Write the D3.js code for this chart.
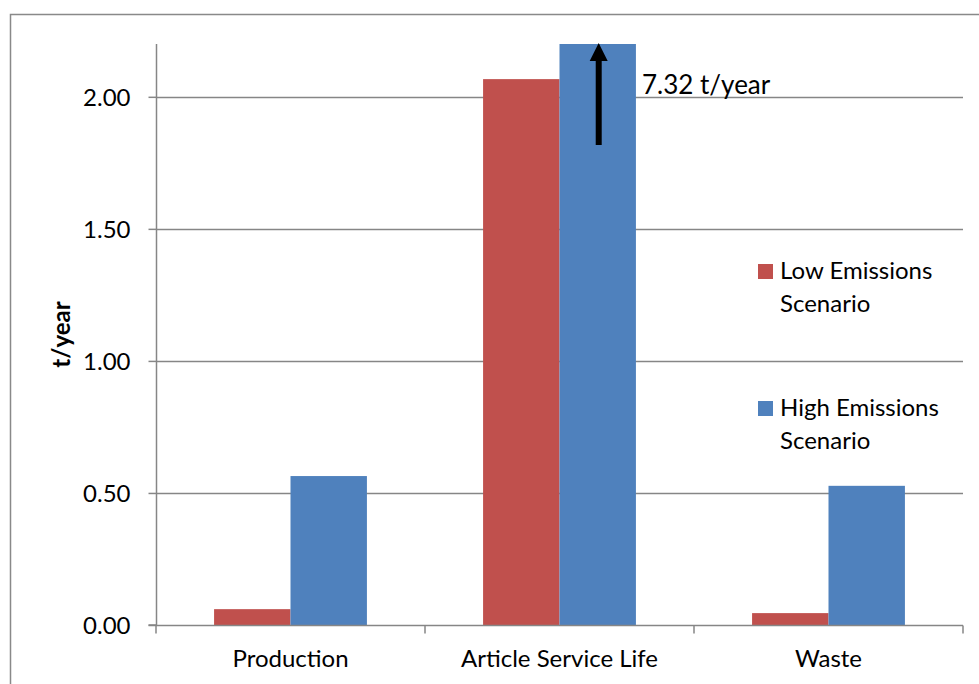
<!DOCTYPE html>
<html>
<head>
<meta charset="utf-8">
<script src="https://cdn.jsdelivr.net/npm/d3@7"></script>
<style>
  html, body { margin: 0; padding: 0; background: #fff; }
  svg { display: block; font-family: Lato, "Open Sans", sans-serif; }
</style>
</head>
<body>
<script>
const categories = ["Production", "Article Service Life", "Waste"];
const seriesNames = ["Low Emissions Scenario", "High Emissions Scenario"];
const lowValues = [0.06, 2.067, 0.045];
const highValues = [0.564, 7.32, 0.527];
const tickValues = [0, 0.5, 1.0, 1.5, 2.0];
const annotationText = "7.32 t/year";
const yTitle = "t/year";

const W = 979, H = 684;
const colors = ["#C0504D", "#4F81BD"];
const margin = { left: 156, right: 16, top: 44, bottom: 59 };

const svg = d3.select("body").append("svg").attr("width", W).attr("height", H);

// outer frame
svg.append("rect").attr("x", 10.5).attr("y", 14.5).attr("width", W + 20).attr("height", H + 20)
  .attr("fill", "none").attr("stroke", "#898989").attr("stroke-width", 1.5);

const x0 = d3.scaleBand().domain(categories).range([margin.left, W - margin.right]).padding(0);
const x1 = d3.scaleBand().domain(seriesNames).range([0, x0.bandwidth()]).paddingInner(0).paddingOuter(0.76);
const y = d3.scaleLinear().domain([0, 2.2]).range([H - margin.bottom, margin.top]);

// gridlines
svg.append("g").selectAll("line").data(tickValues.filter(d => d > 0)).join("line")
  .attr("x1", margin.left).attr("x2", W - margin.right)
  .attr("y1", d => Math.round(y(d)) + 0.5).attr("y2", d => Math.round(y(d)) + 0.5)
  .attr("stroke", "#868686").attr("stroke-width", 1.3);

// bars
const data = categories.map((c, i) => ({ cat: c, vals: [lowValues[i], highValues[i]] }));
const groups = svg.append("g").selectAll("g").data(data).join("g")
  .attr("transform", d => `translate(${x0(d.cat)},0)`);
groups.selectAll("rect").data(d => d.vals.map((v, j) => ({ v, s: seriesNames[j], j }))).join("rect")
  .attr("x", d => x1(d.s))
  .attr("width", x1.bandwidth())
  .attr("y", d => y(Math.min(d.v, 2.2)))
  .attr("height", d => y(0) - y(Math.min(d.v, 2.2)))
  .attr("fill", d => colors[d.j]);

// y axis
const yAxis = d3.axisLeft(y).tickValues(tickValues).tickFormat(d3.format(".2f")).tickSize(8).tickPadding(18);
const gy = svg.append("g").attr("transform", `translate(${margin.left + 0.5},0)`).call(yAxis);
gy.select(".domain").attr("stroke", "#868686").attr("stroke-width", 1.5).attr("d", `M-8,${y(0)}H0V${y(2.2)}`);
gy.selectAll(".tick line").attr("stroke", "#868686").attr("stroke-width", 1.5);
gy.selectAll(".tick text").attr("font-size", 24).attr("fill", "#000").attr("font-family", "Lato").attr("dy", "0.35em");

// x axis
const xAxis = d3.axisBottom(x0).tickSize(0).tickPadding(24);
const gx = svg.append("g").attr("transform", `translate(0,${y(0) + 0.5})`).call(xAxis);
gx.select(".domain").attr("stroke", "#868686").attr("stroke-width", 1.5).attr("d", `M${margin.left},0H${W - margin.right}`);
gx.selectAll(".tick text").attr("font-size", 24).attr("fill", "#000").attr("font-family", "Lato");
// category separators
const seps = [margin.left, ...categories.map(c => x0(c) + x0.bandwidth())];
gx.selectAll("line.sep").data(seps).join("line").attr("class", "sep")
  .attr("x1", d => d).attr("x2", d => d).attr("y1", 0).attr("y2", 8)
  .attr("stroke", "#868686").attr("stroke-width", 1.5);

// y title
svg.append("text").attr("transform", `translate(70,${(y(0) + y(2.2)) / 2}) rotate(-90)`)
  .attr("text-anchor", "middle").attr("font-size", 24).attr("font-weight", "bold").text(yTitle);

// arrow on clipped bar
const ax = x0(categories[1]) + x1(seriesNames[1]) + x1.bandwidth() / 2 + 1;
svg.append("line").attr("x1", ax).attr("x2", ax).attr("y1", 145).attr("y2", 58)
  .attr("stroke", "#000").attr("stroke-width", 6);
svg.append("path").attr("d", `M${ax - 9},${61}L${ax},${y(2.2) - 1}L${ax + 9},${61}Z`).attr("fill", "#000");
svg.append("text").attr("x", 642).attr("y", 94).attr("font-size", 26).text(annotationText);

// legend
const legend = svg.append("g").attr("transform", "translate(758,264)");
const lg = legend.selectAll("g").data(seriesNames).join("g").attr("transform", (d, i) => `translate(0,${i * 137})`);
lg.append("rect").attr("width", 15).attr("height", 15).attr("fill", (d, i) => colors[i]);
lg.append("text").attr("x", 22).attr("y", 15).attr("font-size", 24)
  .selectAll("tspan").data(d => { const p = d.split(" "); return [p.slice(0, 2).join(" "), p.slice(2).join(" ")]; })
  .join("tspan").attr("x", 22).attr("dy", (d, i) => i === 0 ? 0 : 33).text(d => d);
</script>
</body>
</html>
